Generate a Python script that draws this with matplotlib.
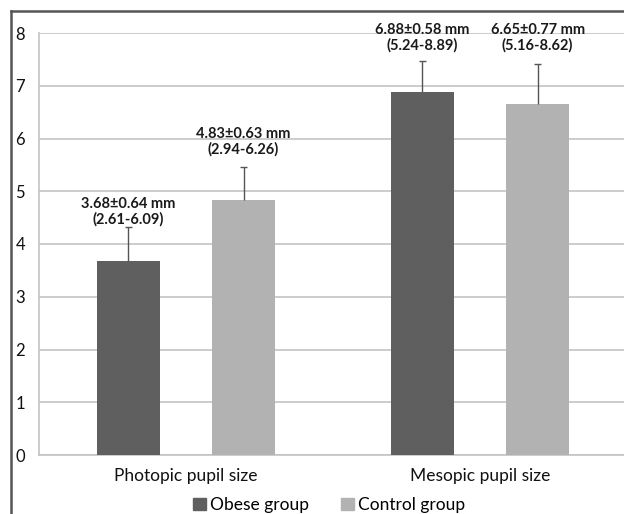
import numpy as np
import matplotlib
matplotlib.use('Agg')
import matplotlib.pyplot as plt
from matplotlib.patches import Patch
from matplotlib.lines import Line2D

# =============================================================================
# Data
# =============================================================================
categories = ['Photopic pupil size', 'Mesopic pupil size']
groups = ['Obese group', 'Control group']
obese_mean = [3.68, 6.88]
obese_sd = [0.64, 0.58]
control_mean = [4.83, 6.65]
control_sd = [0.63, 0.77]
obese_labels = ['3.68\u00b10.64 mm\n(2.61-6.09)', '6.88\u00b10.58 mm\n(5.24-8.89)']
control_labels = ['4.83\u00b10.63 mm\n(2.94-6.26)', '6.65\u00b10.77 mm\n(5.16-8.62)']
obese_label_y = [4.33, 7.62]
control_label_y = [5.66, 7.62]

plt.rcParams['font.family'] = ['Lato', 'DejaVu Sans']

W, H = 624, 514
fig = plt.figure(figsize=(W/100, H/100), dpi=100)
ax = fig.add_axes([39/W, 59/H, 588/W, 422/H])

x = np.arange(len(categories))
bw = 0.214
off = 0.196
cap = 0.012
c_obese = '#5f5f5f'
c_ctrl = '#b2b2b2'

ax.bar(x - off, obese_mean, bw, color=c_obese, zorder=3)
ax.bar(x + off, control_mean, bw, color=c_ctrl, zorder=3)

# upper error bars only
for xs, m, sd in [(x - off, obese_mean, obese_sd), (x + off, control_mean, control_sd)]:
    top = np.array(m) + np.array(sd)
    ax.vlines(xs, m, top, color='#555555', linewidth=1, zorder=4)
    ax.hlines(top, xs - cap, xs + cap, color='#555555', linewidth=1, zorder=4)

for i in range(len(x)):
    ax.text(x[i] - off, obese_label_y[i], obese_labels[i], ha='center', va='bottom',
            fontsize=10.5, fontweight='bold', color='#1a1a1a', linespacing=1.1, zorder=5)
    ax.text(x[i] + off, control_label_y[i], control_labels[i], ha='center', va='bottom',
            fontsize=10.5, fontweight='bold', color='#1a1a1a', linespacing=1.1, zorder=5)

ax.set_xlim(-0.5, 1.5)
ax.set_ylim(0, 8)
ax.set_yticks(range(0, 9))
ax.set_xticks(x)
ax.set_xticklabels(categories, fontsize=12.5, color='#111111')
ax.tick_params(axis='x', length=0, pad=9)
ax.tick_params(axis='y', length=0, pad=10, labelsize=12, labelcolor='#111111')
ax.yaxis.grid(True, color='#c4c4c4', linewidth=1.2, zorder=0)
ax.set_axisbelow(True)
for s in ['top', 'right']:
    ax.spines[s].set_visible(False)
ax.spines['left'].set_color('#c4c4c4')
ax.spines['bottom'].set_color('#c4c4c4')
ax.spines['left'].set_linewidth(1.2)
ax.spines['bottom'].set_linewidth(1.2)

handles = [Patch(color=c_obese), Patch(color=c_ctrl)]
fig.legend(handles, groups, loc='center', bbox_to_anchor=(329/W, 9/H), ncol=2,
           frameon=False, fontsize=12.5, handlelength=0.75, handleheight=0.75,
           handletextpad=0.25, columnspacing=1.8, borderpad=0)

# outer frame
fig.add_artist(Line2D([11/W, 1], [(H-11)/H, (H-11)/H], color='#555555', linewidth=1.8))
fig.add_artist(Line2D([11/W, 11/W], [0, (H-11)/H], color='#555555', linewidth=1.8))

fig.savefig('out.png', dpi=100)
